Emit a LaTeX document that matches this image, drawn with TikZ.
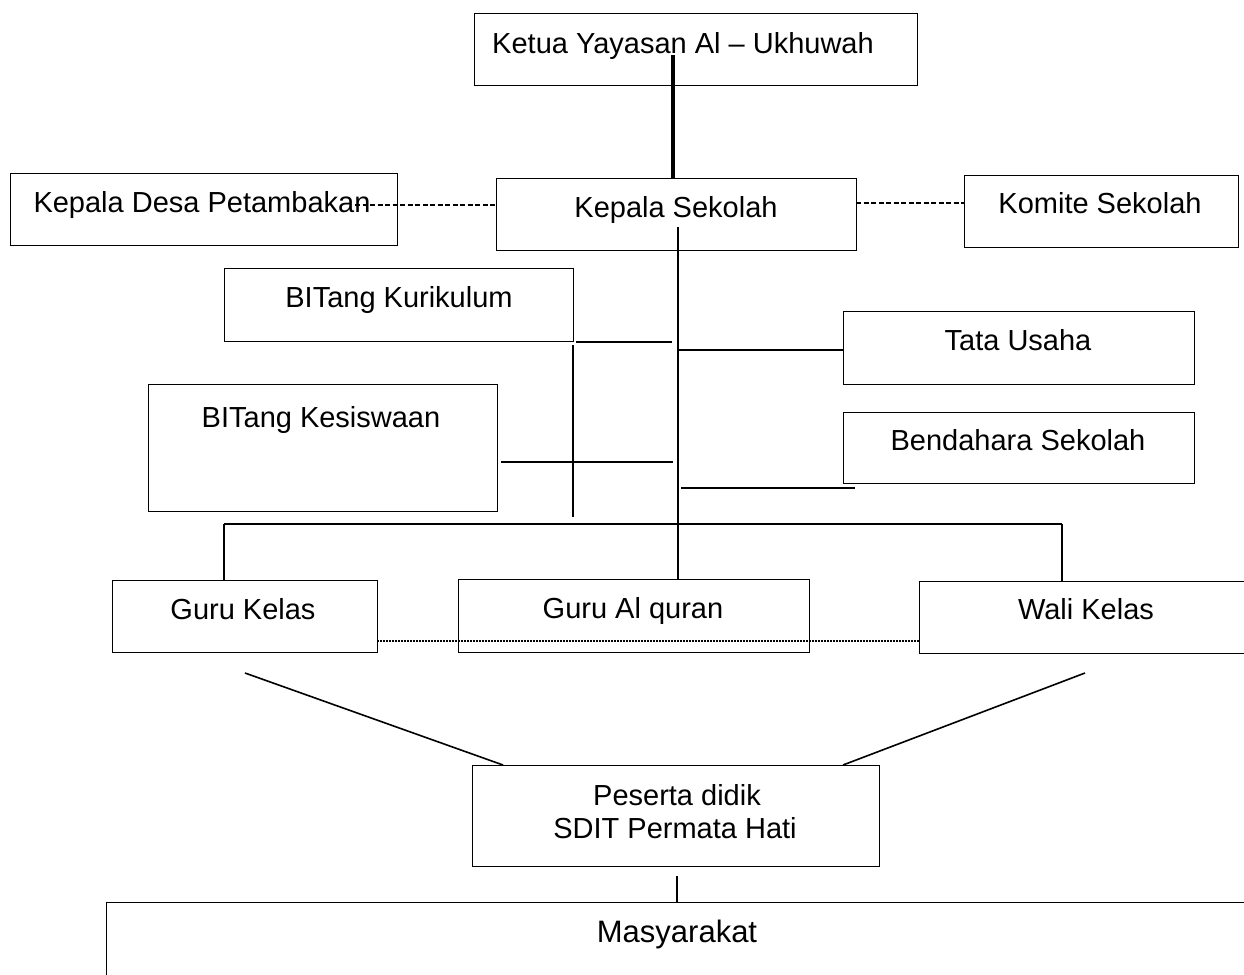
\documentclass[tikz,border=0pt]{standalone}
\usepackage{fontspec}
\setmainfont{Liberation Sans}
\begin{document}
\begin{tikzpicture}[x=1pt,y=-1pt,
  box/.style={draw, line width=1.3pt, inner sep=0pt, anchor=north west},
  lbl/.style={anchor=base, inner sep=0pt, font=\fontsize{29}{34}\selectfont},
  conn/.style={line width=1.6pt},
  thickconn/.style={line width=3.2pt},
  barconn/.style={line width=2.4pt},
  dashconn/.style={line width=1.3pt, dash pattern=on 5pt off 2.5pt},
  dotconn/.style={line width=1.6pt, dash pattern=on 1.6pt off 1.4pt}]
\useasboundingbox (0,0) rectangle (1244,974);
\clip (0,0) rectangle (1244,974);
% boxes
\node[box, minimum width=443, minimum height=72] (ketua) at (474,13) {};
\node[box, minimum width=360, minimum height=72] (kepsek) at (496,178) {};
\node[box, minimum width=387, minimum height=72] (desa) at (10,173) {};
\node[box, minimum width=274, minimum height=72] (komite) at (964,175) {};
\node[box, minimum width=349, minimum height=73] (kurikulum) at (224,268) {};
\node[box, minimum width=351, minimum height=73] (tata) at (843,311) {};
\node[box, minimum width=349, minimum height=127] (kesiswaan) at (148,384) {};
\node[box, minimum width=351, minimum height=71] (bendahara) at (843,412) {};
\node[box, minimum width=265, minimum height=72] (gurukelas) at (112,580) {};
\node[box, minimum width=351, minimum height=73] (guruquran) at (458,579) {};
\node[box, minimum width=341, minimum height=72] (walikelas) at (919,581) {};
\node[box, minimum width=407, minimum height=101] (peserta) at (472,765) {};
\node[box, minimum width=1154, minimum height=98] (masyarakat) at (106,902) {};
% labels
\node[lbl] (ketua-t) at (683,53) {Ketua Yayasan Al – Ukhuwah};
\node[lbl] (kepsek-t) at (676,217) {Kepala Sekolah};
\node[lbl] (desa-t) at (202,212) {Kepala Desa Petambakan};
\node[lbl] (komite-t) at (1100,213) {Komite Sekolah};
\node[lbl] (kurikulum-t) at (399,307) {BITang Kurikulum};
\node[lbl] (tata-t) at (1018,350) {Tata Usaha};
\node[lbl] (kesiswaan-t) at (321,427) {BITang Kesiswaan};
\node[lbl] (bendahara-t) at (1018,450) {Bendahara Sekolah};
\node[lbl] (gurukelas-t) at (243,619) {Guru Kelas};
\node[lbl] (guruquran-t) at (633,618) {Guru Al quran};
\node[lbl] (walikelas-t) at (1086,619) {Wali Kelas};
\node[lbl] (peserta-t1) at (677,805) {Peserta didik};
\node[lbl] (peserta-t2) at (675,838) {SDIT Permata Hati};
\node[lbl, font=\fontsize{31}{36}\selectfont] (masyarakat-t) at (677,942) {Masyarakat};
% coordinates
\coordinate (k1) at (673,55);
\coordinate (k2) at (673,178);
\coordinate (s1) at (678,227);
\coordinate (s2) at (678,579);
\coordinate (d1) at (355,205);
\coordinate (d2) at (496,205);
\coordinate (c1) at (856,203);
\coordinate (c2) at (964,203);
\coordinate (ku1) at (576,342);
\coordinate (ku2) at (672,342);
\coordinate (v1) at (573,345);
\coordinate (v2) at (573,517);
\coordinate (t1) at (678,350);
\coordinate (t2) at (843,350);
\coordinate (ks1) at (501,462);
\coordinate (ks2) at (673,462);
\coordinate (b1) at (681,488);
\coordinate (b2) at (855,488);
\coordinate (barL) at (224,524);
\coordinate (barR) at (1062,524);
\coordinate (gk) at (224,580);
\coordinate (wk) at (1062,581);
\coordinate (dot1) at (377,641);
\coordinate (dot2) at (919,641);
\coordinate (g1) at (245,673);
\coordinate (p1) at (503,765);
\coordinate (w1) at (1085,673);
\coordinate (p2) at (843,765);
\coordinate (p3) at (677,876);
\coordinate (m1) at (677,902);
% connectors
\draw[thickconn] (k1) -- (k2);
\draw[conn] (s1) -- (s2);
\draw[dashconn] (d1) -- (d2);
\draw[dashconn] (c1) -- (c2);
\draw[conn] (ku1) -- (ku2);
\draw[conn] (v1) -- (v2);
\draw[conn] (t1) -- (t2);
\draw[conn] (ks1) -- (ks2);
\draw[conn] (b1) -- (b2);
\draw[barconn] (barL) -- (barR);
\draw[conn] (barL) -- (gk);
\draw[conn] (barR) -- (wk);
\draw[dotconn] (dot1) -- (dot2);
\draw[conn] (g1) -- (p1);
\draw[conn] (w1) -- (p2);
\draw[conn] (p3) -- (m1);
\end{tikzpicture}
\end{document}
